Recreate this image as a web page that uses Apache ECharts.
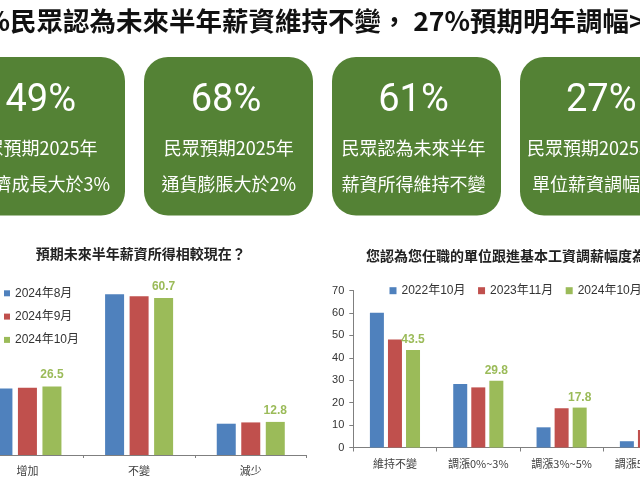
<!DOCTYPE html>
<html>
<head>
<meta charset="utf-8">
<script src="https://cdn.jsdelivr.net/npm/echarts@6/dist/echarts.min.js"></script>
<style>
html,body{margin:0;padding:0;background:#fff;}
#chart{width:640px;height:480px;}
</style>
</head>
<body>
<div id="chart"></div>
<script>
// ---- data ----
const leftCategories = ['增加', '不變', '減少'];
const leftNames = ['2024年8月', '2024年9月', '2024年10月'];
const leftAug = [25.7, 62.2, 12.1];
const leftSep = [26.0, 61.4, 12.6];
const leftOct = [26.5, 60.7, 12.8];

const rightCategories = ['維持不變', '調漲0%~3%', '調漲3%~5%', '調漲5%以上'];
const rightNames = ['2022年10月', '2023年11月', '2024年10月'];
const right2022 = [60.1, 28.3, 9.0, 2.8];
const right2023 = [48.2, 26.8, 17.5, 7.8];
const right2024 = [43.5, 29.8, 17.8, 8.9];
const rightTicks = [0, 10, 20, 30, 40, 50, 60, 70];

const boxValues = ['49%', '68%', '61%', '27%'];
const boxLine1 = ['民眾預期2025年', '民眾預期2025年', '民眾認為未來半年', '民眾預期2025年'];
const boxLine2 = ['經濟成長大於3%', '通貨膨脹大於2%', '薪資所得維持不變', '單位薪資調幅>3%'];

const leftTitle = '預期未來半年薪資所得相較現在？';
const rightTitle = '您認為您任職的單位跟進基本工資調薪幅度為？';

// ---- styling ----
const BLUE = '#4f81bd', RED = '#c0504d', GREEN = '#9bbb59';
const BOX = '#548235';
const LAT = '"Liberation Sans", "Noto Sans CJK TC", sans-serif';
const CJK = '"Noto Sans CJK TC", "Liberation Sans", sans-serif';
const NUM = 'Roboto, "Liberation Sans", sans-serif';

function txt(text, x, y, font, fill, align) {
  return {
    type: 'text', silent: true,
    style: {
      text: text, x: x, y: y, font: font, fill: fill,
      textAlign: align, align: align,
      textVerticalAlign: 'middle', verticalAlign: 'middle'
    }
  };
}

const graphics = [];
// headline
const titleFont = 'bold 26.5px ' + CJK;
graphics.push(txt('61%', 10, 20.5, titleFont, '#111', 'right'));
graphics.push(txt('民眾認為未來半年薪資維持不變，', 10, 20.5, titleFont, '#111', 'left'));
graphics.push(txt('27%', 470, 20.5, titleFont, '#111', 'right'));
graphics.push(txt('預期明年調幅>3%', 470, 20.5, titleFont, '#111', 'left'));

// green boxes
const boxX = [-44, 144, 332, 520];
boxX.forEach(function (bx) {
  graphics.push({
    type: 'rect', silent: true,
    shape: { x: bx, y: 57, width: 169, height: 158.5, r: 24 },
    style: { fill: BOX }
  });
});
const numFont = '38px ' + NUM;
const lineFont = '18px ' + CJK;
const numY = 101.5, l1Y = 148, l2Y = 184;
// box 1 (clipped on the left): right aligned
graphics.push(txt(boxValues[0], 76, numY, numFont, '#fff', 'right'));
graphics.push(txt(boxLine1[0], 97.5, l1Y, lineFont, '#fff', 'right'));
graphics.push(txt(boxLine2[0], 110, l2Y, lineFont, '#fff', 'right'));
// box 2, 3 centered
graphics.push(txt(boxValues[1], 226, numY, numFont, '#fff', 'center'));
graphics.push(txt(boxLine1[1], 228.8, l1Y, lineFont, '#fff', 'center'));
graphics.push(txt(boxLine2[1], 228.8, l2Y, lineFont, '#fff', 'center'));
graphics.push(txt(boxValues[2], 413.5, numY, numFont, '#fff', 'center'));
graphics.push(txt(boxLine1[2], 413.4, l1Y, lineFont, '#fff', 'center'));
graphics.push(txt(boxLine2[2], 413.4, l2Y, lineFont, '#fff', 'center'));
// box 4 (clipped on the right): left aligned
graphics.push(txt(boxValues[3], 566, numY, numFont, '#fff', 'left'));
graphics.push(txt(boxLine1[3], 527, l1Y, lineFont, '#fff', 'left'));
graphics.push(txt(boxLine2[3], 532, l2Y, lineFont, '#fff', 'left'));

// chart titles
graphics.push(txt(leftTitle, 140.8, 254, 'bold 14px ' + CJK, '#222', 'center'));
graphics.push(txt(rightTitle, 366, 256, 'bold 14px ' + CJK, '#222', 'left'));

function barSeries(name, data, color, xi, bw, showLabel, dist) {
  return {
    type: 'bar', name: name, data: data,
    xAxisIndex: xi, yAxisIndex: xi,
    barWidth: bw, barGap: '29%',
    itemStyle: { color: color },
    animation: false,
    label: {
      show: showLabel, position: 'top', distance: dist,
      color: GREEN, fontWeight: 'bold', fontSize: 12, fontFamily: LAT
    }
  };
}

const option = {
  backgroundColor: '#fff',
  animation: false,
  graphic: { elements: graphics },
  legend: [
    {
      data: leftNames, orient: 'vertical', left: 4, top: 287.3,
      itemWidth: 6, itemHeight: 6, itemGap: 11.3, icon: 'rect',
      textStyle: { fontSize: 12, color: '#333', fontFamily: LAT },
      selectedMode: false, padding: 0
    },
    {
      data: rightNames, orient: 'horizontal', left: 389.5, top: 284.7,
      width: 300, height: 20,
      itemWidth: 7, itemHeight: 7, itemGap: 12.5, icon: 'rect',
      textStyle: { fontSize: 12, color: '#333', fontFamily: LAT },
      selectedMode: false, padding: 0
    }
  ],
  grid: [
    { left: -28.4, top: 274, width: 335, height: 181, containLabel: false, outerBoundsMode: 'none' },
    { left: 353.3, top: 290.5, width: 333.3, height: 157, containLabel: false, outerBoundsMode: 'none' }
  ],
  xAxis: [
    {
      type: 'category', gridIndex: 0, data: leftCategories,
      axisLine: { lineStyle: { color: '#7f7f7f', width: 1 } },
      axisTick: { show: true, length: 3, lineStyle: { color: '#7f7f7f' } },
      axisLabel: { fontSize: 11, color: '#404040', margin: 10, fontFamily: CJK, interval: 0 }
    },
    {
      type: 'category', gridIndex: 1, data: rightCategories,
      axisLine: { lineStyle: { color: '#7f7f7f', width: 1 } },
      axisTick: { show: true, length: 4, lineStyle: { color: '#7f7f7f' } },
      axisLabel: { fontSize: 11, color: '#404040', margin: 11, fontFamily: CJK, interval: 0 }
    }
  ],
  yAxis: [
    { type: 'value', gridIndex: 0, min: 0, max: 70, show: false },
    {
      type: 'value', gridIndex: 1, min: rightTicks[0], max: rightTicks[rightTicks.length - 1], interval: 10,
      axisLine: { show: true, lineStyle: { color: '#7f7f7f' } },
      axisTick: { show: true, length: 4, lineStyle: { color: '#7f7f7f' } },
      splitLine: { show: false },
      axisLabel: { fontSize: 11, color: '#333', margin: 9, fontFamily: LAT }
    }
  ],
  series: [
    barSeries(leftNames[0], leftAug, BLUE, 0, 19, false, 5.5),
    barSeries(leftNames[1], leftSep, RED, 0, 19, false, 5.5),
    barSeries(leftNames[2], leftOct, GREEN, 0, 19, true, 5.5),
    barSeries(rightNames[0], right2022, BLUE, 1, 14, false, 4),
    barSeries(rightNames[1], right2023, RED, 1, 14, false, 4),
    barSeries(rightNames[2], right2024, GREEN, 1, 14, true, 4)
  ]
};

const chart = echarts.init(document.getElementById('chart'), null, { renderer: 'canvas' });
chart.setOption(option);
</script>
</body>
</html>
